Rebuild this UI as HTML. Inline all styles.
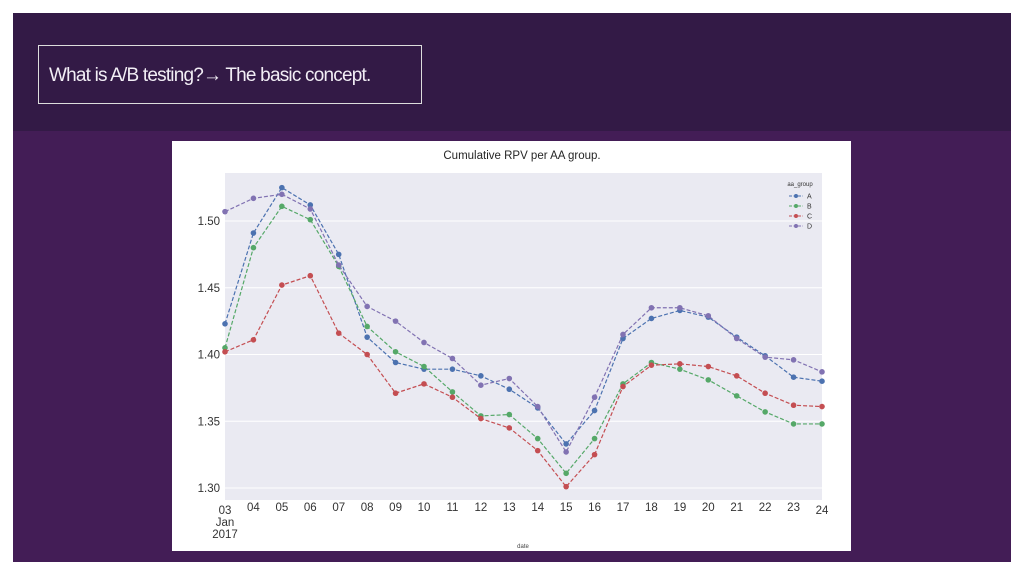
<!DOCTYPE html>
<html><head><meta charset="utf-8"><style>
body{margin:0;width:1024px;height:576px;background:#fff;position:relative;overflow:hidden;font-family:"Liberation Sans",sans-serif}
#slide{position:absolute;left:13px;top:13px;width:998px;height:549px;background:#431d56}
#hdr{position:absolute;left:0;top:0;width:998px;height:118px;background:#331a46}
#ttl{position:absolute;left:25px;top:32px;width:384px;height:59px;border:1px solid #ddd;box-sizing:border-box;color:#f2eef5;font-size:19px;line-height:59px;padding-left:10px;letter-spacing:-0.8px}
#chart{position:absolute;left:172px;top:141px}
</style></head><body>
<div id="slide">
<div id="hdr"><div id="ttl">What is A/B testing?→ The basic concept.</div></div>
</div>
<svg id="chart" width="679" height="410">
<rect width="679" height="410" fill="#fff"/>
<rect x="53" y="32" width="597" height="327" fill="#eaeaf2"/>
<g id="grid"></g><g id="series"></g><g id="ticks"></g>
<text x="350" y="18" text-anchor="middle" font-size="11.5" fill="#262626">Cumulative RPV per AA group.</text>
<text x="351" y="407" text-anchor="middle" font-size="6" fill="#444">date</text>
<g id="legend"></g>
</svg>
<script>
const dates=["03","04","05","06","07","08","09","10","11","12","13","14","15","16","17","18","19","20","21","22","23","24"];
const groups=["A","B","C","D"];
const colors=["#4c72b0","#55a868","#c44e52","#8172b2"];
const seriesA=[1.423,1.491,1.525,1.512,1.475,1.413,1.394,1.389,1.389,1.384,1.374,1.360,1.333,1.358,1.412,1.427,1.433,1.428,1.413,1.399,1.383,1.380];
const seriesB=[1.405,1.480,1.511,1.501,1.466,1.421,1.402,1.391,1.372,1.354,1.355,1.337,1.311,1.337,1.378,1.394,1.389,1.381,1.369,1.357,1.348,1.348];
const seriesC=[1.402,1.411,1.452,1.459,1.416,1.400,1.371,1.378,1.368,1.352,1.345,1.328,1.301,1.325,1.376,1.392,1.393,1.391,1.384,1.371,1.362,1.361];
const seriesD=[1.507,1.517,1.520,1.509,1.467,1.436,1.425,1.409,1.397,1.377,1.382,1.361,1.327,1.368,1.415,1.435,1.435,1.429,1.412,1.398,1.396,1.387];
const yTicks=[1.30,1.35,1.40,1.45,1.50];
const NS="http://www.w3.org/2000/svg";
const X=i=>53+i*(597/(dates.length-1));
const Y=v=>80+(1.50-v)/0.05*66.75;
function mk(t,a,p){const e=document.createElementNS(NS,t);for(const k in a)e.setAttribute(k,a[k]);document.getElementById(p).appendChild(e);return e;}
yTicks.forEach(v=>{
 const l=mk("line",{x1:53,x2:650,y1:Y(v),y2:Y(v),stroke:"#fff","stroke-width":1},"grid");
 
 
 const t=mk("text",{x:48,y:Y(v)+4,"text-anchor":"end","font-size":11.5,fill:"#333"},"ticks");
 t.textContent=v.toFixed(2);
 
 
});
dates.forEach((d,i)=>{
 const t=mk("text",{x:X(i),y:i==0||i==dates.length-1?373:370,"text-anchor":"middle","font-size":11.5,fill:"#333"},"ticks");
 t.textContent=d;
 
 
});
[["Jan",385],["2017",397]].forEach(([s,y])=>{const t=mk("text",{x:X(0),y:y,"text-anchor":"middle","font-size":11.5,fill:"#333"},"ticks");t.textContent=s;
 
 });
[seriesA,seriesB,seriesC,seriesD].forEach((s,k)=>{
 const p=mk("polyline",{points:s.map((v,i)=>X(i)+","+Y(v)).join(" "),fill:"none",stroke:colors[k],"stroke-width":1.2,"stroke-dasharray":"4,2"},"series");
 
 
 s.forEach((v,i)=>{const c=mk("circle",{cx:X(i),cy:Y(v),r:2.8,fill:colors[k]},"series");
 
 });
});
const lt=mk("text",{x:628,y:45,"text-anchor":"middle","font-size":6,fill:"#333"},"legend");lt.textContent="aa_group";


groups.forEach((g,k)=>{const y=55+k*10;
 const l=mk("line",{x1:617,x2:631,y1:y,y2:y,stroke:colors[k],"stroke-dasharray":"3,1.5"},"legend");
 
 
 const c=mk("circle",{cx:624,cy:y,r:2,fill:colors[k]},"legend");
 
 
 const t=mk("text",{x:635,y:y+2.5,"font-size":7,fill:"#333"},"legend");t.textContent=g;
 
 
});
</script>
</body></html>
